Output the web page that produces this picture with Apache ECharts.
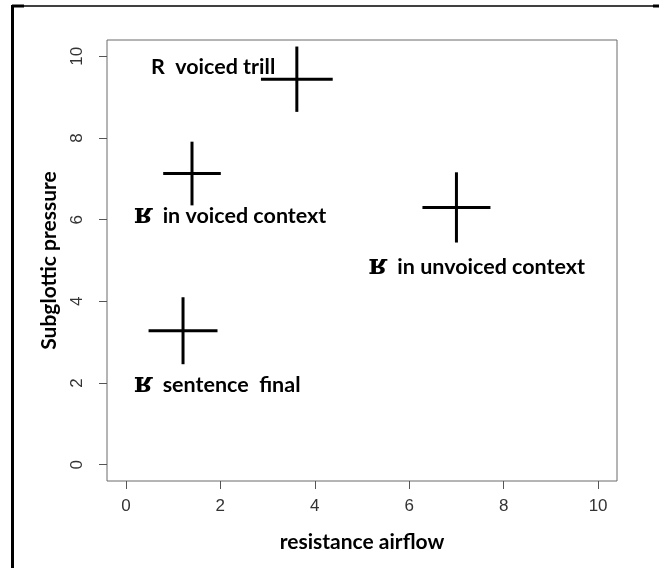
<!DOCTYPE html>
<html><head><meta charset="utf-8">
<script src="https://cdn.jsdelivr.net/npm/echarts@6/dist/echarts.min.js"></script>
<style>html,body{margin:0;padding:0;background:#fff}#c{width:659px;height:568px}</style>
</head><body><div id="c"></div>
<script>
// Data
const pointNames = ['voiced trill', 'in voiced context', 'in unvoiced context', 'sentence final'];
const airflow = [3.62, 1.40, 7.00, 1.21];
const pressure = [9.44, 7.13, 6.30, 3.28];
const airflowErr = [0.76, 0.61, 0.72, 0.73];
const pressureErr = [0.80, 0.78, 0.86, 0.82];
const labelTexts = ['{s|R}  voiced trill', '{r|ʁ}in voiced context', '{r|ʁ}in unvoiced context', '{r|ʁ}sentence  final'];
const labelX = [0.53, 0.17, 5.14, 0.17];
const labelY = [9.73, 6.08, 4.83, 1.94];
const tickValues = [0, 2, 4, 6, 8, 10];

const crossData = airflow.map((x, i) => [x, pressure[i], airflowErr[i], pressureErr[i]]);
const textData = labelX.map((x, i) => [x, labelY[i], i]);

const chart = echarts.init(document.getElementById('c'), null, {renderer: 'canvas'});
const tickLabelStyle = {color: '#333', fontFamily: '"Liberation Sans Narrow", "Liberation Sans"', fontSize: 17};
const titleStyle = {fontFamily: 'Lato', fontWeight: 'bold', fontSize: 21, color: '#000'};
chart.setOption({
  animation: false,
  backgroundColor: '#fff',
  grid: {left: 107, right: 42, top: 40, bottom: 87, show: true, borderColor: '#6a6a6a', borderWidth: 1, backgroundColor: 'transparent'},
  xAxis: {
    type: 'value', min: -0.4, max: 10.4,
    name: 'resistance airflow', nameLocation: 'middle', nameGap: 51,
    nameTextStyle: titleStyle,
    axisLine: {show: false, onZero: false},
    axisTick: {show: true, customValues: tickValues, length: 8, lineStyle: {color: '#555'}},
    axisLabel: {customValues: tickValues, margin: 17, ...tickLabelStyle},
    splitLine: {show: false}
  },
  yAxis: {
    type: 'value', min: -0.4, max: 10.4,
    name: 'Subglottic pressure', nameLocation: 'middle', nameGap: 47,
    nameTextStyle: titleStyle,
    axisLine: {show: false, onZero: false},
    axisTick: {show: true, customValues: tickValues, length: 8, lineStyle: {color: '#555'}},
    axisLabel: {customValues: tickValues, rotate: 90, margin: 21, ...tickLabelStyle},
    splitLine: {show: false}
  },
  graphic: [
    {type: 'line', shape: {x1: 12, y1: 6, x2: 656, y2: 6}, style: {stroke: '#000', lineWidth: 1.5}},
    {type: 'line', shape: {x1: 12, y1: 6, x2: 24, y2: 6}, style: {stroke: '#000', lineWidth: 3}},
    {type: 'line', shape: {x1: 653, y1: 6, x2: 659, y2: 6}, style: {stroke: '#000', lineWidth: 3}},
    {type: 'line', shape: {x1: 12.5, y1: 5, x2: 12.5, y2: 568}, style: {stroke: '#000', lineWidth: 3}}
  ],
  series: [
    {
      type: 'custom', name: 'crosses', data: crossData,
      renderItem: function (params, api) {
        const x = api.value(0), y = api.value(1), ex = api.value(2), ey = api.value(3);
        const l = api.coord([x - ex, y]), r = api.coord([x + ex, y]);
        const t = api.coord([x, y + ey]), b = api.coord([x, y - ey]);
        return {type: 'group', children: [
          {type: 'line', shape: {x1: l[0], y1: l[1], x2: r[0], y2: r[1]}, style: {stroke: '#000', lineWidth: 3}},
          {type: 'line', shape: {x1: t[0], y1: t[1], x2: b[0], y2: b[1]}, style: {stroke: '#000', lineWidth: 3}}
        ]};
      }
    },
    {
      type: 'custom', name: 'labels', data: textData,
      renderItem: function (params, api) {
        const p = api.coord([api.value(0), api.value(1)]);
        return {type: 'text', x: p[0], y: p[1], style: {
          text: labelTexts[api.value(2)], fill: '#000',
          fontFamily: 'Lato', fontWeight: 'bold', fontSize: 21.5,
          align: 'left', verticalAlign: 'middle',
          rich: {
            r: {fontFamily: 'DejaVu Serif', fontWeight: 'bold', fontSize: 27, fill: '#000', padding: [0, 10, 0, 0]},
            s: {fontFamily: 'Lato', fontWeight: 'bold', fontSize: 21.5, fill: '#000'}
          }
        }};
      }
    }
  ]
});
</script></body></html>
